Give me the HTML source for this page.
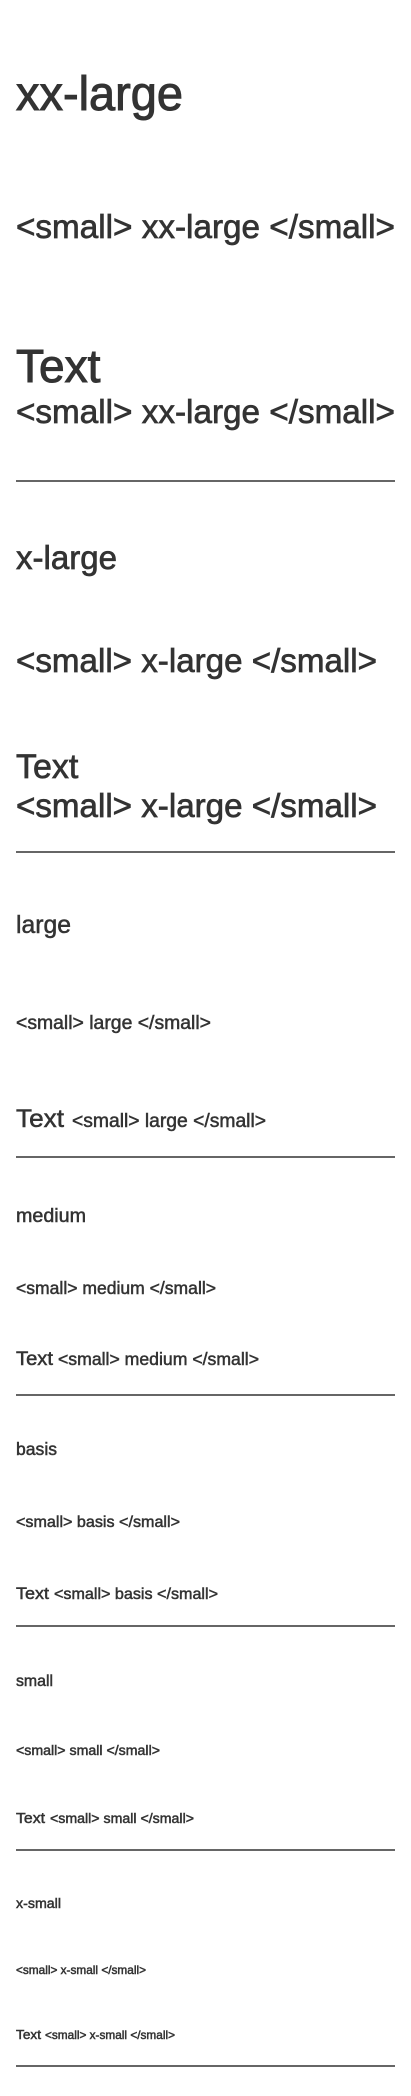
<!DOCTYPE html>
<html><head><meta charset="utf-8"><style>
html,body{margin:0;padding:0;background:#fff;width:411px;height:2096px;overflow:hidden}
svg{display:block}
text{font-family:"Liberation Sans",sans-serif;fill:#333;stroke:#333;stroke-width:0.5px}
</style></head><body>
<svg width="411" height="2096" viewBox="0 0 411 2096" xmlns="http://www.w3.org/2000/svg">
<text x="16" y="110" font-size="48" textLength="167" lengthAdjust="spacingAndGlyphs" style="stroke-width:1px">xx-large</text>
<text x="16" y="238" font-size="33" textLength="379" lengthAdjust="spacingAndGlyphs" style="stroke-width:0.7px">&lt;small&gt; xx-large &lt;/small&gt;</text>
<text x="16" y="382" font-size="46" style="stroke-width:1px">Text</text>
<text x="16" y="423" font-size="33" textLength="379" lengthAdjust="spacingAndGlyphs" style="stroke-width:0.7px">&lt;small&gt; xx-large &lt;/small&gt;</text>
<rect x="16" y="480" width="379" height="2" fill="#666"/>
<text x="16" y="569" font-size="33" textLength="101" lengthAdjust="spacingAndGlyphs" style="stroke-width:0.7px">x-large</text>
<text x="16" y="672" font-size="33" textLength="361" lengthAdjust="spacingAndGlyphs" style="stroke-width:0.7px">&lt;small&gt; x-large &lt;/small&gt;</text>
<text x="16" y="778" font-size="34" style="stroke-width:0.7px">Text</text>
<text x="16" y="817" font-size="33" textLength="361" lengthAdjust="spacingAndGlyphs" style="stroke-width:0.7px">&lt;small&gt; x-large &lt;/small&gt;</text>
<rect x="16" y="851" width="379" height="2" fill="#666"/>
<text x="16" y="933" font-size="24.7" textLength="55" lengthAdjust="spacingAndGlyphs">large</text>
<text x="16" y="1029" font-size="19.4" textLength="195" lengthAdjust="spacingAndGlyphs">&lt;small&gt; large &lt;/small&gt;</text>
<text x="16" y="1127" font-size="24.7" textLength="48" lengthAdjust="spacingAndGlyphs">Text</text>
<text x="72" y="1127" font-size="19.4" textLength="194" lengthAdjust="spacingAndGlyphs">&lt;small&gt; large &lt;/small&gt;</text>
<rect x="16" y="1156" width="379" height="2" fill="#666"/>
<text x="16" y="1222" font-size="19.7" textLength="70" lengthAdjust="spacingAndGlyphs">medium</text>
<text x="16" y="1294" font-size="17.6" textLength="200" lengthAdjust="spacingAndGlyphs">&lt;small&gt; medium &lt;/small&gt;</text>
<text x="16" y="1365" font-size="19" textLength="37" lengthAdjust="spacingAndGlyphs">Text</text>
<text x="58" y="1365" font-size="17.6" textLength="201" lengthAdjust="spacingAndGlyphs">&lt;small&gt; medium &lt;/small&gt;</text>
<rect x="16" y="1394" width="379" height="2" fill="#666"/>
<text x="16" y="1455" font-size="17.6" textLength="41" lengthAdjust="spacingAndGlyphs">basis</text>
<text x="16" y="1527" font-size="16.1" textLength="164" lengthAdjust="spacingAndGlyphs">&lt;small&gt; basis &lt;/small&gt;</text>
<text x="16" y="1599" font-size="17" textLength="33" lengthAdjust="spacingAndGlyphs">Text</text>
<text x="54" y="1599" font-size="16.1" textLength="164" lengthAdjust="spacingAndGlyphs">&lt;small&gt; basis &lt;/small&gt;</text>
<rect x="16" y="1625" width="379" height="2" fill="#666"/>
<text x="16" y="1686" font-size="15.9" textLength="37" lengthAdjust="spacingAndGlyphs">small</text>
<text x="16" y="1755" font-size="14.2" textLength="144" lengthAdjust="spacingAndGlyphs">&lt;small&gt; small &lt;/small&gt;</text>
<text x="16" y="1823" font-size="15" textLength="29" lengthAdjust="spacingAndGlyphs">Text</text>
<text x="50" y="1823" font-size="14.2" textLength="144" lengthAdjust="spacingAndGlyphs">&lt;small&gt; small &lt;/small&gt;</text>
<rect x="16" y="1849" width="379" height="2" fill="#666"/>
<text x="16" y="1908" font-size="14.2" textLength="45" lengthAdjust="spacingAndGlyphs">x-small</text>
<text x="16" y="1974" font-size="11.8" textLength="130" lengthAdjust="spacingAndGlyphs">&lt;small&gt; x-small &lt;/small&gt;</text>
<text x="16" y="2039" font-size="13" textLength="25" lengthAdjust="spacingAndGlyphs">Text</text>
<text x="45" y="2039" font-size="11.8" textLength="130" lengthAdjust="spacingAndGlyphs">&lt;small&gt; x-small &lt;/small&gt;</text>
<rect x="16" y="2065" width="379" height="2" fill="#666"/>
</svg>
</body></html>
